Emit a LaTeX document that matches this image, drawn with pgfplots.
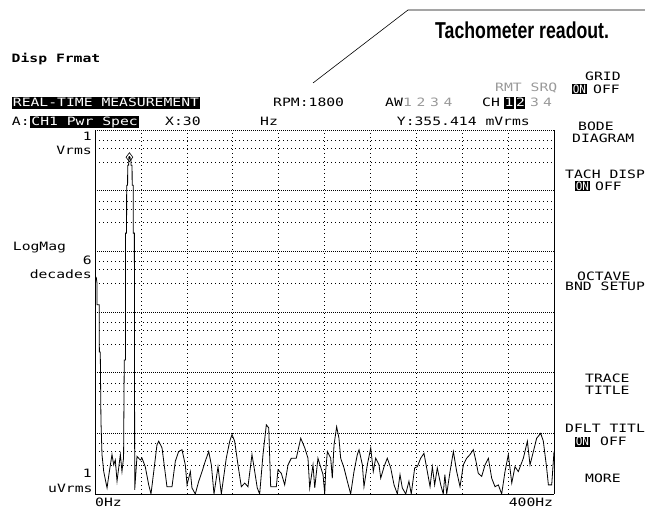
\documentclass[border=0pt]{standalone}
\usepackage{fontspec}
\setmainfont{DejaVu Sans Mono}
\newfontfamily\tachfont{Liberation Sans}
\usepackage{pgfplots}
\pgfplotsset{compat=1.18}
\newcommand\hp[1]{\scalebox{1.28}[1]{\fontsize{11.5}{12}\selectfont #1}}
\newcommand\hpb[1]{\scalebox{1.28}[1]{\fontsize{11.5}{12}\selectfont\bfseries #1}}
\newcommand\hpn[1]{\scalebox{0.96}[1]{\fontsize{11.5}{12}\selectfont #1}}
\begin{document}
\begin{tikzpicture}[x=1pt,y=1pt,
  t/.style={inner sep=0pt, text height=8.4pt, text depth=0pt},
  inv/.style={fill=black, text=white, inner xsep=1.2pt, inner ysep=1.6pt, text height=8.4pt, text depth=0.4pt},
  invs/.style={fill=black, text=white, inner xsep=0.6pt, inner ysep=0.8pt, text height=8.4pt, text depth=0pt},
  dim/.style={t, text=black!40}]
\path[use as bounding box] (0,0) rectangle (645,510);
\begin{axis}[at={(95pt,16pt)}, anchor=south west, width=459pt, height=364pt, scale only axis,
  xmin=0, xmax=400, ymin=-6, ymax=0,
  axis x line*=bottom, axis y line*=box,
  axis line style={line width=0.8pt},
  xtick={40,80,...,360}, xticklabels={},
  ytick={-0.17,-0.30,-0.525,-1.17,-1.30,-1.525,-2.17,-2.30,-2.525,-3.17,-3.30,-3.525,-4.17,-4.30,-4.525,-5.17,-5.30,-5.525},
  yticklabels={},
  minor ytick={-5,-4,-3,-2,-1,0},
  xmajorgrids, ymajorgrids, yminorgrids,
  major tick length=0pt, minor tick length=0pt,
  major grid style={black, line width=0.5pt, dash pattern=on 0.8pt off 3.2pt},
  minor grid style={black, line width=0.6pt, dash pattern=on 0.8pt off 1.2pt},
  clip=true]
\addplot[black, line width=0.8pt] coordinates {
(0,-2.40)(1.2,-2.44)(1.7,-2.52)(1.8,-2.88)(3.7,-2.88)(3.8,-3.66)(4.6,-3.66)(5.2,-4.80)(6.1,-5.35)
(7.6,-5.63)(10.5,-5.90)(12.5,-5.63)(14.8,-5.35)(16.3,-5.52)(17.7,-5.44)(19.2,-5.79)(22.1,-5.35)(23.5,-5.63)(24.9,-5.40)
(25.5,-3.79)(26.5,-3.79)(26.6,-1.70)(27.5,-1.70)(27.6,-0.91)(28.4,-0.91)(28.5,-0.58)(29.3,-0.58)(29.4,-0.48)(30,-0.449)(30.6,-0.48)(31.3,-0.48)(31.4,-0.58)(32.3,-0.58)(32.4,-0.91)(33.3,-0.91)(33.4,-1.70)(34.3,-1.70)(34.6,-5.93)
(36.6,-5.38)(39.5,-5.44)(41.0,-5.41)(43.8,-5.55)(46.8,-5.85)(48.8,-6.0)(51.2,-5.63)(54.0,-5.19)(55.5,-5.13)(58.4,-5.24)(59.9,-5.46)(62.7,-5.88)(67.1,-5.88)(70.0,-5.46)(72.9,-5.30)(75.8,-5.27)(78.7,-5.52)(80.2,-5.85)(83.1,-5.63)(84.5,-5.90)(87.4,-6.0)(90.4,-5.79)(93.3,-5.63)(96.1,-5.46)(99.1,-5.30)
(101.4,-5.52)(103.7,-6.0)(107.2,-5.55)(110.1,-6.0)(114.4,-5.41)(117.4,-5.13)(119.4,-5.02)(121.7,-5.13)(124.6,-5.52)(127.5,-5.88)(130.5,-5.82)(133.3,-5.88)(136.8,-5.35)(139.2,-5.63)(141.4,-5.90)(143.5,-6.0)(146.4,-5.35)(149.3,-4.86)(151.4,-4.91)(153.1,-5.88)(158.0,-5.88)(159.5,-5.60)(162.4,-5.66)(165.3,-5.85)(168.2,-5.52)(171.1,-5.41)(175.4,-5.41)(179.3,-5.08)(182.8,-5.24)(185.6,-5.41)(187.1,-5.90)(190.0,-5.52)(191.5,-5.90)(194.3,-5.41)(198.7,-5.68)(200.2,-6.0)
(201.0,-5.63)(202.5,-5.30)(205.4,-5.41)(206.8,-5.74)(208.3,-5.19)(210.6,-4.89)(212.6,-5.08)(214.1,-5.41)(217.0,-5.57)(219.9,-5.79)(222.8,-6.0)(225.7,-5.63)(228.6,-5.35)(230.1,-5.27)(233.0,-5.52)(234.4,-5.88)(237.3,-5.52)(240.3,-5.24)(242.5,-5.63)(244.6,-5.41)(247.5,-5.52)(249.0,-5.74)(251.9,-5.55)(254.7,-5.41)(257.7,-5.57)(260.6,-5.85)(263.5,-6.0)(265.8,-5.68)(267.8,-5.90)(270.8,-6.0)(273.6,-5.79)(275.6,-6.0)(278.6,-5.57)(280.9,-5.55)(283.8,-5.41)(286.7,-5.33)(289.6,-5.63)(292.0,-5.88)(294.0,-5.55)(296.0,-5.85)(298.3,-5.57)(301.3,-5.85)(303.5,-6.0)(304.9,-5.68)(306.5,-6.0)
(309.4,-5.63)(312.3,-5.30)(315.2,-5.63)(318.1,-5.88)(321.0,-5.52)(323.9,-5.41)(326.8,-5.35)(329.7,-5.27)(332.0,-5.46)(334.0,-5.66)(337.0,-5.71)(339.9,-5.52)(342.8,-5.41)(345.7,-5.74)(348.6,-5.88)(351.5,-5.85)(354.4,-6.0)(357.3,-5.63)(360.2,-5.35)(363.2,-5.82)(366.0,-5.55)(368.9,-5.63)(373.3,-5.41)(376.8,-5.13)(379.1,-5.52)(382.0,-5.30)(384.9,-5.08)(388.4,-5.00)(390.7,-5.13)(393.6,-5.57)(395.1,-5.85)(398.0,-5.85)(400,-5.30)
};
\addplot[only marks, mark=diamond, mark size=4.5pt, mark options={fill=white, draw=black, line width=0.6pt}] coordinates {(30,-0.449)};
\addplot[only marks, mark=*, mark size=0.9pt, black] coordinates {(30,-0.449)};
\end{axis}
% annotation
\draw[line width=0.6pt] (313,427) -- (408,500) -- (645,500);
\node[anchor=west, inner sep=0pt] at (435,480) {\scalebox{0.77}[1]{\fontsize{23}{26}\selectfont\tachfont\bfseries Tachometer readout.}};
% header
\node[t, anchor=west] at (11.5,451.7) {\hpb{Disp Frmat}};
\node[inv, anchor=west] at (11.5,407.2) {\hp{REAL-TIME MEASUREMENT}};
\node[t, anchor=west] at (273,407.3) {\hp{RPM:1800}};
\node[t, anchor=west] at (385,407.3) {\hp{AW}};
\node[dim, anchor=west] at (403,407.3) {\hp{1}};
\node[dim, anchor=west] at (416.5,407.3) {\hp{2}};
\node[dim, anchor=west] at (430,407.3) {\hp{3}};
\node[dim, anchor=west] at (443.5,407.3) {\hp{4}};
\node[dim, anchor=west] at (495,422.7) {\hp{RMT SRQ}};
\node[t, anchor=west] at (482,407.3) {\hp{CH}};
\node[inv, inner xsep=0.4pt, anchor=west] at (504,407.3) {\hp{1}};
\node[inv, inner xsep=0.4pt, anchor=west] at (515.5,407.3) {\hp{2}};
\node[dim, anchor=west] at (530,407.3) {\hp{3}};
\node[dim, anchor=west] at (543,407.3) {\hp{4}};
\node[t, anchor=west] at (11.7,388.3) {\hp{A:}};
\node[inv, anchor=west] at (30,388.3) {\hp{CH1 Pwr Spec}};
\node[t, anchor=west] at (165,388.3) {\hp{X:30}};
\node[t, anchor=west] at (260,388.3) {\hp{Hz}};
\node[t, anchor=west] at (396.7,388.3) {\hp{Y:355.414 mVrms}};
% y labels
\node[t, anchor=east] at (92,374) {\hp{1}};
\node[t, anchor=east] at (92,359.3) {\hp{Vrms}};
\node[t, anchor=west] at (12.7,263.3) {\hp{LogMag}};
\node[t, anchor=east] at (92,249.3) {\hp{6}};
\node[t, anchor=east] at (92,236) {\hp{decades}};
\node[t, anchor=east] at (92,36.7) {\hp{1}};
\node[t, anchor=east] at (92.7,21.7) {\hp{uVrms}};
\node[t, anchor=west] at (95,7.7) {\hp{0Hz}};
\node[t, anchor=east] at (553.3,7.7) {\hp{400Hz}};
% softkey menu
\node[t, anchor=west] at (585,434) {\hp{GRID}};
\node[invs, anchor=west] at (572,421) {\hpn{ON}};
\node[t, anchor=west] at (593,421) {\hp{OFF}};
\node[t, anchor=west] at (578,384) {\hp{BODE}};
\node[t, anchor=west] at (572,371.5) {\hp{DIAGRAM}};
\node[t, anchor=west] at (565,335.5) {\hp{TACH DISP}};
\node[invs, anchor=west] at (575,324) {\hpn{ON}};
\node[t, anchor=west] at (595,324) {\hp{OFF}};
\node[t, anchor=west] at (577,233.3) {\hp{OCTAVE}};
\node[t, anchor=west] at (565,223.3) {\hp{BND SETUP}};
\node[t, anchor=west] at (585,132) {\hp{TRACE}};
\node[t, anchor=west] at (585,119.3) {\hp{TITLE}};
\node[t, anchor=west] at (565,82) {\hp{DFLT TITL}};
\node[invs, anchor=west] at (575,68.3) {\hpn{ON}};
\node[t, anchor=west] at (600,68.3) {\hp{OFF}};
\node[t, anchor=west] at (585,32) {\hp{MORE}};
\end{tikzpicture}
\end{document}
